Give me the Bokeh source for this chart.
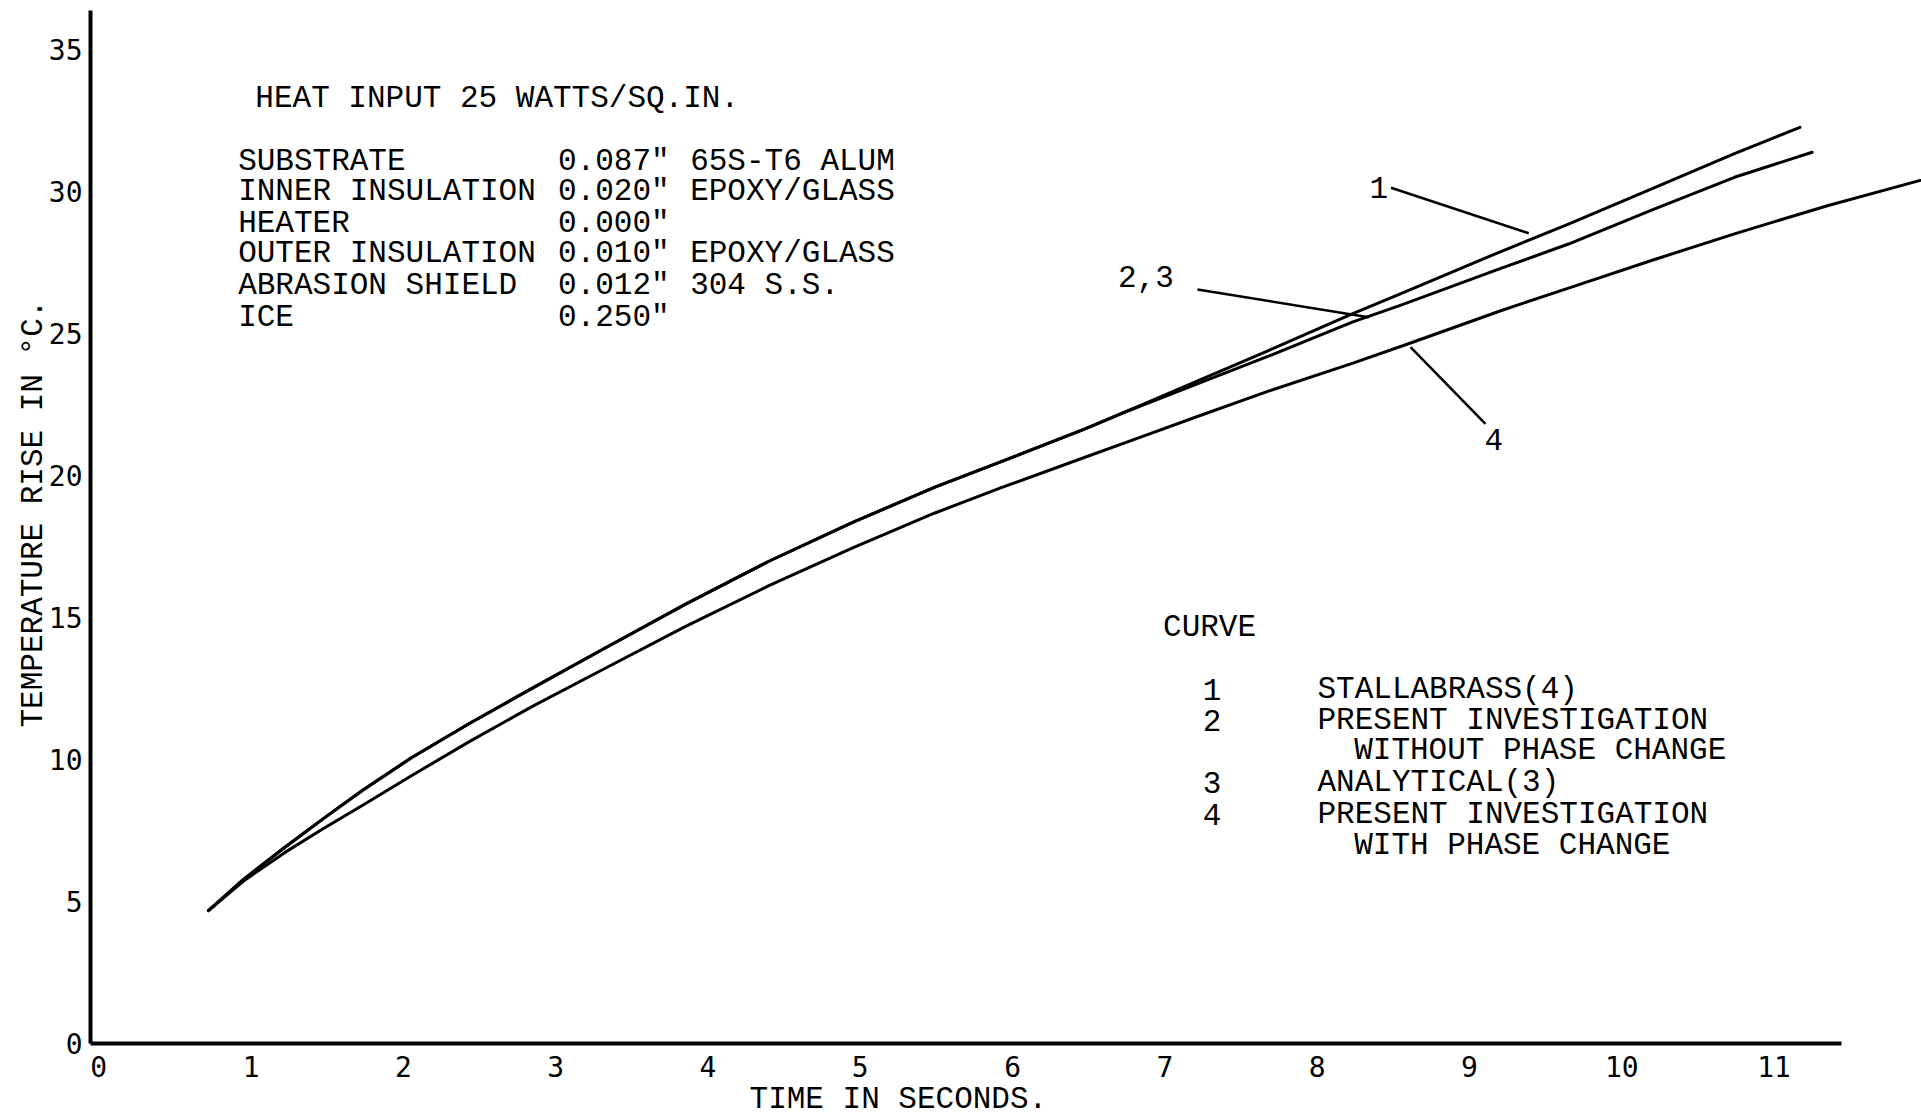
import math
from bokeh.plotting import figure
from bokeh.models import Range1d, FixedTicker
from bokeh.core.properties import value
from bokeh.embed import file_html
from bokeh.resources import INLINE

# ---------------- data ----------------
# Curve 1: STALLABRASS(4)
time_1 = [0.72, 0.95, 1.22, 1.47, 1.73, 2.05, 2.43, 2.85, 3.31, 3.85, 4.40, 4.95, 5.49, 5.93,
          6.48, 6.76, 7.20, 7.68, 8.23, 8.55, 9.19, 9.65, 10.20, 10.74, 11.17]
temp_1 = [4.68, 5.78, 6.90, 7.90, 8.91, 10.05, 11.26, 12.52, 13.88, 15.46, 16.98, 18.35, 19.59, 20.50,
          21.65, 22.28, 23.30, 24.40, 25.69, 26.40, 27.85, 28.85, 30.10, 31.33, 32.26]

# Curves 2,3: present investigation without phase change / analytical(3)
time_23 = [0.72, 0.95, 1.22, 1.47, 1.73, 2.05, 2.43, 2.85, 3.31, 3.85, 4.40, 4.95, 5.49, 5.93,
           6.48, 6.76, 7.20, 7.68, 8.23, 8.55, 9.21, 9.65, 10.20, 10.74, 11.25]
temp_23 = [4.68, 5.78, 6.90, 7.90, 8.91, 10.05, 11.26, 12.52, 13.88, 15.46, 16.98, 18.35, 19.59, 20.50,
           21.65, 22.28, 23.20, 24.20, 25.40, 26.00, 27.30, 28.15, 29.35, 30.50, 31.38]

# Curve 4: present investigation with phase change
time_4 = [0.72, 0.95, 1.22, 1.47, 1.73, 2.05, 2.43, 2.85, 3.31, 3.85, 4.40, 4.95, 5.49, 5.93,
          6.48, 6.80, 7.20, 7.68, 8.23, 8.59, 9.21, 9.65, 10.20, 10.74, 11.35, 11.96]
temp_4 = [4.68, 5.72, 6.72, 7.55, 8.38, 9.42, 10.62, 11.88, 13.17, 14.68, 16.12, 17.45, 18.68, 19.58,
          20.65, 21.27, 22.05, 22.97, 23.95, 24.62, 25.81, 26.60, 27.58, 28.51, 29.50, 30.39]

x_ticks = [0, 1, 2, 3, 4, 5, 6, 7, 8, 9, 10, 11]
y_ticks = [0, 5, 10, 15, 20, 25, 30, 35]

x_title = "TIME IN SECONDS."
y_title = "TEMPERATURE RISE IN \u00b0C."

header_text = "HEAT INPUT 25 WATTS/SQ.IN."
layer_names = ["SUBSTRATE", "INNER INSULATION", "HEATER", "OUTER INSULATION", "ABRASION SHIELD", "ICE"]
layer_thickness = ['0.087"', '0.020"', '0.000"', '0.010"', '0.012"', '0.250"']
layer_material = ["65S-T6 ALUM", "EPOXY/GLASS", "", "EPOXY/GLASS", "304 S.S.", ""]

legend_title = "CURVE"
legend_ids = ["1", "2", "", "3", "4", ""]
legend_desc = ["STALLABRASS(4)", "PRESENT INVESTIGATION", "WITHOUT PHASE CHANGE",
               "ANALYTICAL(3)", "PRESENT INVESTIGATION", "WITH PHASE CHANGE"]

callout_labels = ["1", "2,3", "4"]

# ---------------- layout (positions in chart units) ----------------
FONT = value("Liberation Mono")
TXT = "31px"

axis_x_pos = -0.054          # where the vertical axis sits (time units)
axis_top = 36.37             # top end of the vertical axis line
axis_right = 11.44           # right end of the horizontal axis line

table_rows_y = [31.07, 30.00, 28.87, 27.80, 26.68, 25.55]
table_cols_x = [0.915, 3.015, 3.883]
legend_rows_y = [12.48, 11.36, 10.32, 9.20, 8.08, 6.96]
legend_desc_x = [8.002, 8.002, 8.243, 8.002, 8.002, 8.243]
callout_x = [8.404, 6.876, 9.160]
callout_y = [30.13, 27.02, 21.28]
leader_x0 = [8.485, 7.214, 8.613]
leader_y0 = [30.13, 26.55, 24.52]
leader_x1 = [9.389, 8.339, 9.105]
leader_y1 = [28.53, 25.57, 21.82]

p = figure(width=1921, height=1118, output_backend="svg", toolbar_location=None,
           x_range=Range1d(-0.6454, 11.968), y_range=Range1d(-2.641, 36.725),
           min_border_left=0, min_border_right=0, min_border_top=0, min_border_bottom=0)
p.outline_line_color = None
p.background_fill_color = "white"
p.border_fill_color = "white"
p.xgrid.visible = False
p.ygrid.visible = False

for ax in (p.xaxis[0], p.yaxis[0]):
    ax.axis_line_width = 4
    ax.axis_line_color = "black"
    ax.major_tick_in = 0
    ax.major_tick_out = 0
    ax.minor_tick_in = 0
    ax.minor_tick_out = 0
    ax.major_label_text_font = "DejaVu Sans Mono"
    ax.major_label_text_font_size = "28px"
    ax.major_label_text_color = "black"

p.xaxis[0].ticker = FixedTicker(ticks=x_ticks)
p.yaxis[0].ticker = FixedTicker(ticks=y_ticks)
p.xaxis[0].fixed_location = 0
p.yaxis[0].fixed_location = axis_x_pos
p.xaxis[0].bounds = (axis_x_pos, axis_right)
p.yaxis[0].bounds = (0, axis_top)
p.xaxis[0].major_label_standoff = 13
p.yaxis[0].major_label_standoff = 8

# curves
for xs, ys in ((time_1, temp_1), (time_23, temp_23), (time_4, temp_4)):
    p.line(xs, ys, line_color="black", line_width=3, line_join="round", line_cap="round")

# leader lines and callouts
p.segment(x0=leader_x0, y0=leader_y0, x1=leader_x1, y1=leader_y1,
          line_color="black", line_width=2.5)
p.text(x=callout_x, y=callout_y, text=callout_labels,
       text_font=FONT, text_font_size=TXT, text_align="center", text_baseline="middle",
       text_color="black")

# header and layer table
p.text(x=[1.028], y=[33.27], text=[header_text], text_font=FONT, text_font_size=TXT,
       text_align="left", text_baseline="middle", text_color="black")
for cx, col in zip(table_cols_x, (layer_names, layer_thickness, layer_material)):
    p.text(x=[cx] * len(col), y=table_rows_y, text=col, text_font=FONT, text_font_size=TXT,
           text_align="left", text_baseline="middle", text_color="black")

# curve legend
p.text(x=[6.988], y=[14.64], text=[legend_title], text_font=FONT, text_font_size=TXT,
       text_align="left", text_baseline="middle", text_color="black")
p.text(x=[7.31] * len(legend_ids), y=legend_rows_y, text=legend_ids, text_font=FONT,
       text_font_size=TXT, text_align="center", text_baseline="middle", text_color="black")
p.text(x=legend_desc_x, y=legend_rows_y, text=legend_desc, text_font=FONT,
       text_font_size=TXT, text_align="left", text_baseline="middle", text_color="black")

# axis titles
p.text(x=[5.25], y=[-1.97], text=[x_title], text_font=FONT, text_font_size=TXT,
       text_align="center", text_baseline="middle", text_color="black")
p.text(x=[-0.429], y=[18.66], text=[y_title], angle=math.pi / 2, text_font=FONT,
       text_font_size=TXT, text_align="center", text_baseline="middle", text_color="black")

open("out.html", "w").write(file_html(p, INLINE))
